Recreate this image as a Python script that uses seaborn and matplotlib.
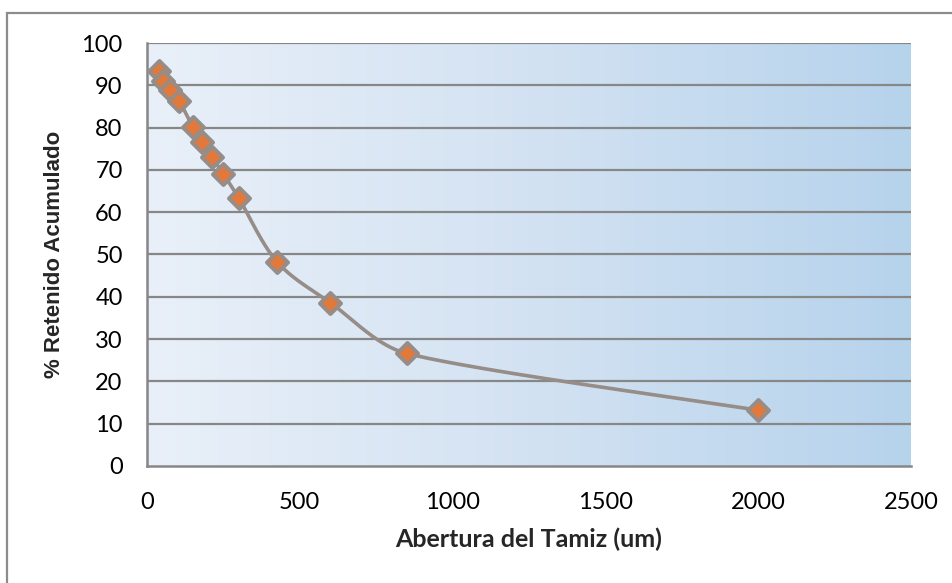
import numpy as np
import pandas as pd
import matplotlib
matplotlib.use("Agg")
import matplotlib.pyplot as plt
import seaborn as sns
from matplotlib.colors import LinearSegmentedColormap
from matplotlib.patches import Rectangle
from matplotlib.font_manager import FontProperties

# Sieve analysis: opening (um) vs cumulative retained (%)
abertura_um = [38, 53, 75, 106, 150, 180, 212, 250, 300, 425, 600, 850, 2000]
retenido_acum = [93.4, 91.0, 88.9, 86.2, 80.1, 76.6, 73.1, 69.0, 63.4, 48.3, 38.6, 26.6, 13.2]

x_ticks = [0, 500, 1000, 1500, 2000, 2500]
y_ticks = [0, 10, 20, 30, 40, 50, 60, 70, 80, 90, 100]

df = pd.DataFrame({"abertura": abertura_um, "retenido": retenido_acum})

sns.set_theme(style="white")
plt.rcParams["font.family"] = ["Lato", "DejaVu Sans"]

W, H = 952, 583
fig = plt.figure(figsize=(W / 100, H / 100), dpi=100)
ax = fig.add_axes([147 / W, 1 - 466 / H, (911 - 147) / W, (466 - 43) / H])

line_col = "#968c88"
marker_fill = "#e2793a"
grid_col = "#878787"

ax.set_xlim(0, 2500)
ax.set_ylim(0, 100)

# Horizontal gradient background of the plot area
cmap = LinearSegmentedColormap.from_list("bg", ["#e9f0f9", "#d3e2f2", "#b6d3ec"])
grad = np.linspace(0, 1, 256).reshape(1, -1)
ax.imshow(grad, extent=[0, 2500, 0, 100], aspect="auto", cmap=cmap,
          zorder=0, interpolation="bicubic")

for yv in y_ticks[1:]:
    ax.axhline(yv, color=grid_col, lw=1.6, zorder=1)

# Smoothed connecting curve: cubic Bezier segments built in display space,
# with handle lengths limited relative to each segment
fig.canvas.draw()
pts = ax.transData.transform(np.column_stack([df["abertura"], df["retenido"]]))
n = len(pts)
tangents = []
for i in range(n):
    a = pts[max(i - 1, 0)]
    b = pts[min(i + 1, n - 1)]
    tangents.append((b - a) / 6.0)
t = np.linspace(0, 1, 60)
curve = []
for i in range(n - 1):
    p0, p3 = pts[i], pts[i + 1]
    seg = np.linalg.norm(p3 - p0)
    h1, h2 = tangents[i].copy(), tangents[i + 1].copy()
    for h in (h1, h2):
        L = np.linalg.norm(h)
        if L > seg / 3:
            h *= (seg / 3) / L
    c1, c2 = p0 + h1, p3 - h2
    bz = (np.outer((1 - t) ** 3, p0) + np.outer(3 * (1 - t) ** 2 * t, c1)
          + np.outer(3 * (1 - t) * t ** 2, c2) + np.outer(t ** 3, p3))
    curve.append(bz)
curve = ax.transData.inverted().transform(np.vstack(curve))
ax.plot(curve[:, 0], curve[:, 1], color=line_col, lw=2.6, zorder=3,
        solid_capstyle="round")

sns.scatterplot(data=df, x="abertura", y="retenido", ax=ax, marker="D",
                s=115, color=marker_fill, edgecolor=line_col, linewidth=2.8,
                zorder=4, legend=False)

ax.set_xticks(x_ticks)
ax.set_yticks(y_ticks)
ax.tick_params(axis="both", labelsize=17, colors=grid_col, labelcolor="black",
               length=6.5, width=1.6, direction="out")
ax.tick_params(axis="y", pad=11)
ax.tick_params(axis="x", pad=12)
for side in ["top", "right"]:
    ax.spines[side].set_visible(False)
for side in ["left", "bottom"]:
    ax.spines[side].set_color(grid_col)
    ax.spines[side].set_linewidth(1.8)

ax.set_xlabel("Abertura del Tamiz (um)", fontsize=18, fontweight="bold", labelpad=11)
ylab_font = FontProperties(family="Liberation Sans", weight="bold", size=16)
ax.set_ylabel("% Retenido Acumulado", fontproperties=ylab_font, labelpad=12)

# Chart frame
fig.patches.append(Rectangle((7 / W, -0.05), 1.2, (583 - 13) / H + 0.05,
                             transform=fig.transFigure, fill=False,
                             edgecolor="#8c8c8c", lw=1.6, zorder=0))

fig.savefig("out.png", dpi=100, facecolor="white")
